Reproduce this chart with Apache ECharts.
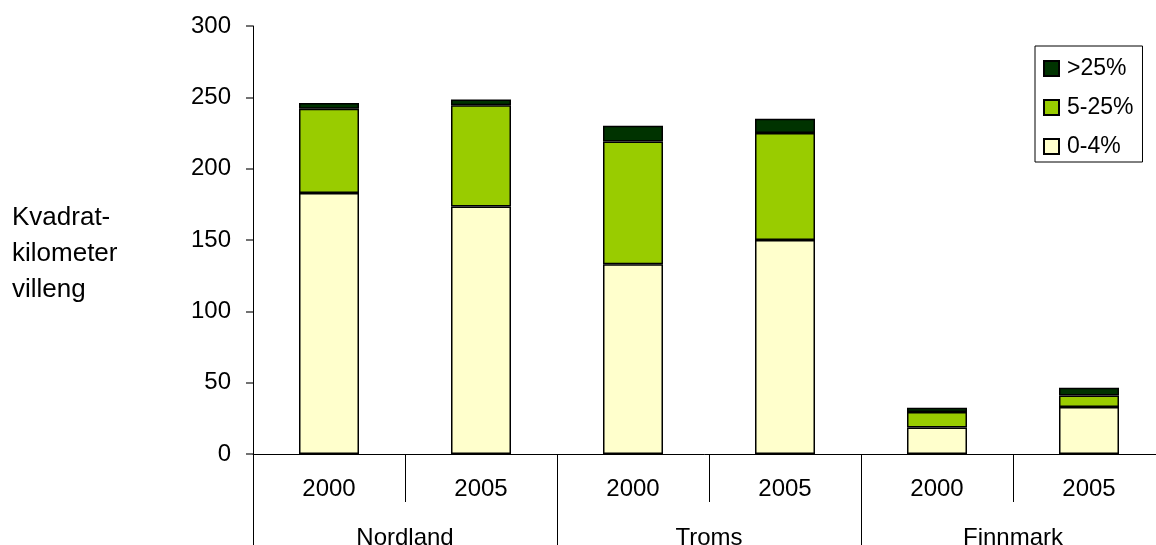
<!DOCTYPE html>
<html>
<head>
<meta charset="utf-8">
<script src="https://cdn.jsdelivr.net/npm/echarts@6/dist/echarts.min.js"></script>
<style>
    html, body { margin: 0; padding: 0; background: #fff; }
    #main { width: 1156px; height: 545px; }
</style>
</head>
<body>
<div id="main"></div>
<script>
var years = ['2000', '2005', '2000', '2005', '2000', '2005'];
var regions = ['Nordland', 'Troms', 'Finnmark'];
var low = [183, 173.5, 133, 150, 18.5, 33];     // 0-4%
var mid = [59, 71, 86, 75, 11, 8];              // 5-25%
var high = [4, 4, 11, 10, 3, 5.5];              // >25%
var yTicks = [0, 300, 50];                      // min, max, interval

var FONT = 'Liberation Sans, Arial, sans-serif';

function drawChart(chartId) {
    var chartDom = document.getElementById(chartId);
    var myChart = echarts.init(chartDom);

    var barStyle = function (color) {
        return {
            color: color,
            borderColor: '#000',
            borderWidth: 1.5
        };
    };

    var option = {
        animation: false,
        textStyle: { fontFamily: FONT },
        grid: {
            left: 253,
            top: 26,
            width: 912,
            height: 428,
            containLabel: false,
            outerBoundsMode: 'none'
        },
        legend: {
            orient: 'vertical',
            left: 1035,
            top: 46,
            padding: [11, 9, 4, 8],
            itemGap: 16,
            itemWidth: 15,
            itemHeight: 15,
            icon: 'rect',
            borderColor: '#000',
            borderWidth: 1,
            data: ['>25%', '5-25%', '0-4%'],
            textStyle: { fontFamily: FONT, fontSize: 23, color: '#000', padding: [0, 0, 0, 3] }
        },
        graphic: [
            {
                type: 'text',
                left: 12,
                top: 200,
                style: {
                    text: 'Kvadrat-\nkilometer\nvilleng',
                    font: '26px ' + FONT,
                    lineHeight: 36,
                    fill: '#000'
                }
            }
        ],
        xAxis: [
            {
                type: 'category',
                data: years,
                position: 'bottom',
                axisLine: { show: true, lineStyle: { color: '#000', width: 1 } },
                axisTick: { show: true, interval: 0, alignWithLabel: false, length: 48, lineStyle: { color: '#000', width: 1 } },
                axisLabel: { color: '#000', fontSize: 24, margin: 23, fontFamily: FONT }
            },
            {
                type: 'category',
                data: regions,
                position: 'bottom',
                axisLine: { show: false },
                axisTick: { show: true, interval: 0, alignWithLabel: false, length: 100, lineStyle: { color: '#000', width: 1 } },
                axisLabel: { color: '#000', fontSize: 24, margin: 72, fontFamily: FONT }
            }
        ],
        yAxis: {
            type: 'value',
            min: yTicks[0],
            max: yTicks[1],
            interval: yTicks[2],
            splitLine: { show: false },
            axisLine: { show: true, lineStyle: { color: '#000', width: 1 } },
            axisTick: { show: true, inside: false, length: 7, lineStyle: { color: '#444', width: 1.5 } },
            axisLabel: { color: '#000', fontSize: 24, margin: 22, fontFamily: FONT }
        },
        series: [
            {
                name: '0-4%',
                type: 'bar',
                stack: 'total',
                barWidth: 60,
                itemStyle: barStyle('#FFFFCC'),
                data: low
            },
            {
                name: '5-25%',
                type: 'bar',
                stack: 'total',
                barWidth: 60,
                itemStyle: barStyle('#99CC00'),
                data: mid
            },
            {
                name: '>25%',
                type: 'bar',
                stack: 'total',
                barWidth: 60,
                itemStyle: barStyle('#003300'),
                data: high
            }
        ]
    };
    myChart.setOption(option);
}

drawChart('main');
</script>
</body>
</html>
